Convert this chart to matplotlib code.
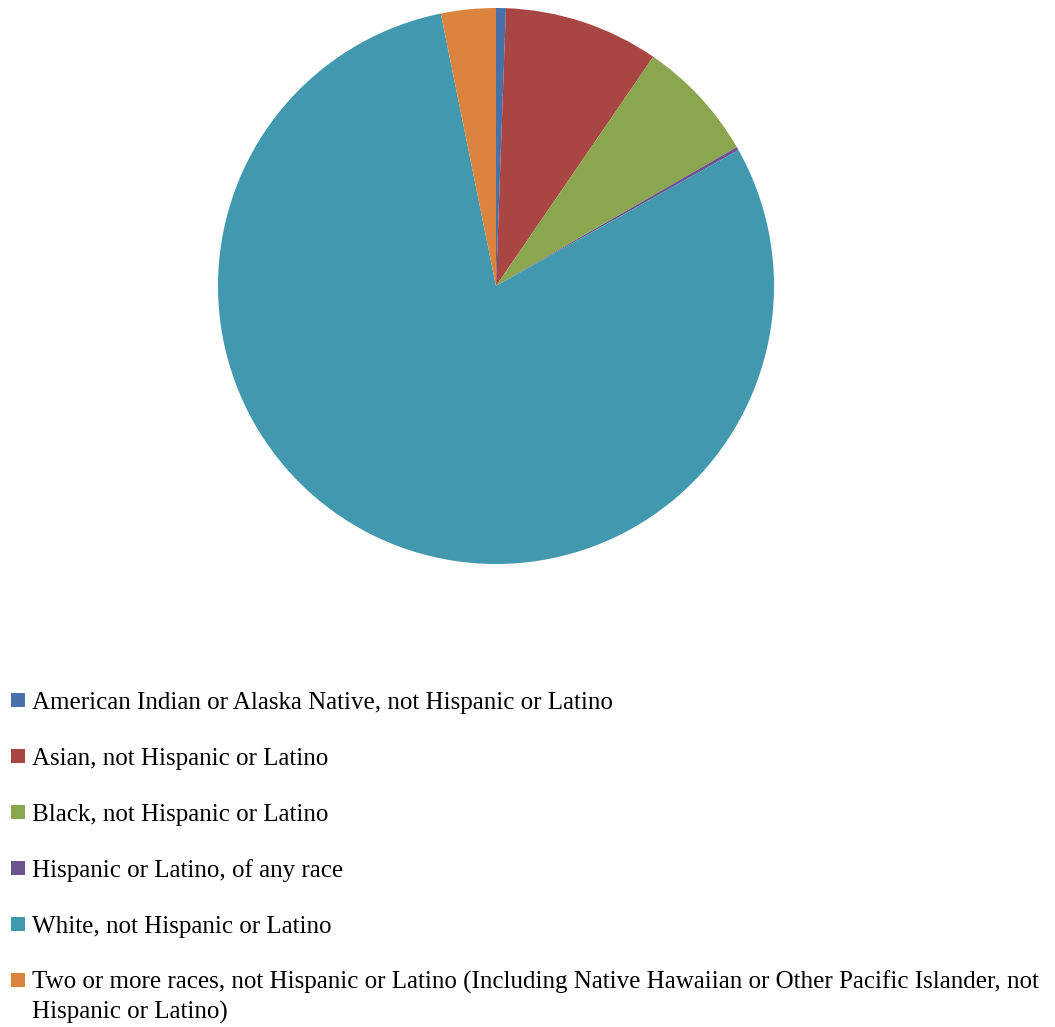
import matplotlib
matplotlib.use("Agg")
import matplotlib.pyplot as plt
from matplotlib.patches import Rectangle

categories = [
    "American Indian or Alaska Native, not Hispanic or Latino",
    "Asian, not Hispanic or Latino",
    "Black, not Hispanic or Latino",
    "Hispanic or Latino, of any race",
    "White, not Hispanic or Latino",
    "Two or more races, not Hispanic or Latino (Including Native Hawaiian or Other Pacific Islander, not\nHispanic or Latino)",
]
shares = [0.57, 9.0, 7.1, 0.2, 79.95, 3.18]
colors = ["#4671A9", "#A94543", "#8AA64F", "#6E548D", "#4298AF", "#DB843D"]

W, H = 1055, 1027
fig = plt.figure(figsize=(W / 100, H / 100), dpi=100)

cx, cy, r = 496, 286, 278
ax = fig.add_axes([(cx - r) / W, (H - cy - r) / H, 2 * r / W, 2 * r / H])
ax.pie(shares, colors=colors, startangle=90, counterclock=False,
       wedgeprops=dict(linewidth=0))
ax.set_xlim(-1, 1)
ax.set_ylim(-1, 1)
ax.set_aspect("auto")
ax.axis("off")

# legend drawn as a column of swatches and labels (pixel baselines)
baselines = [709, 765, 821, 877, 933, 989]
for yb, lab, col in zip(baselines, categories, colors):
    fig.add_artist(Rectangle((11 / W, 1 - (yb - 2) / H), 14 / W, 14 / H,
                             transform=fig.transFigure, facecolor=col,
                             edgecolor="none"))
    first = lab.split("\n")
    for k, line in enumerate(first):
        fig.text(32 / W, 1 - (yb + 30 * k) / H, line,
                 family="Liberation Serif", fontsize=18,
                 va="baseline", ha="left")

fig.savefig("out.png", dpi=100)
